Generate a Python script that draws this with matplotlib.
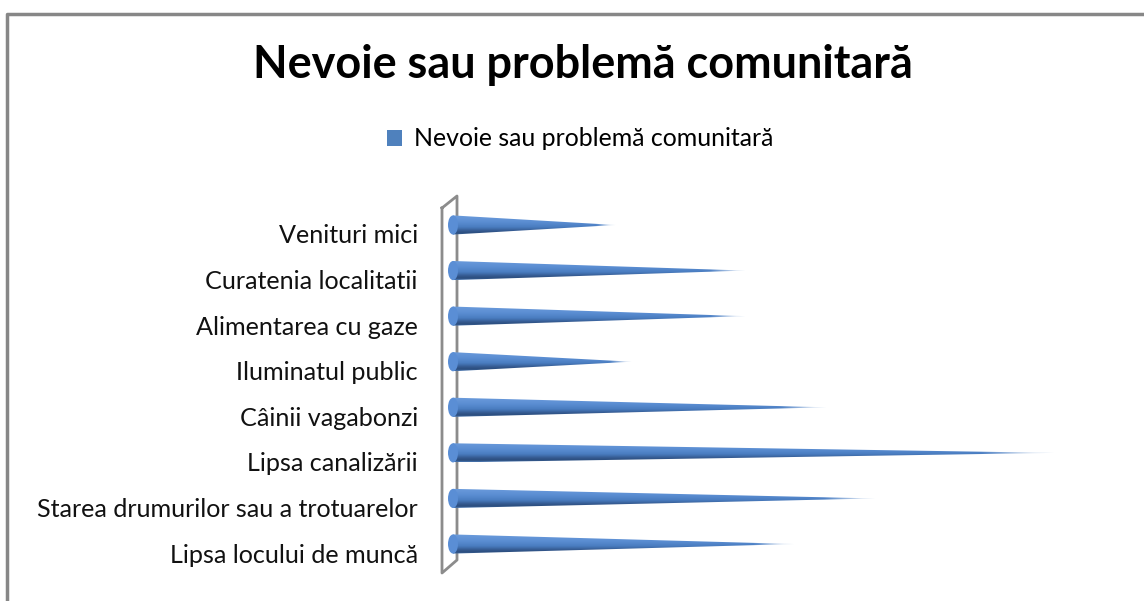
import matplotlib
matplotlib.use("Agg")
import matplotlib.pyplot as plt
import numpy as np
from matplotlib.patches import Polygon, Ellipse, Patch
from matplotlib.colors import LinearSegmentedColormap
from matplotlib.transforms import ScaledTranslation

plt.rcParams['font.family'] = ['Lato', 'DejaVu Sans']

# --- DATA ---
categories = [
    "Venituri mici",
    "Curatenia localitatii",
    "Alimentarea cu gaze",
    "Iluminatul public",
    "Câinii vagabonzi",
    "Lipsa canalizării",
    "Starea drumurilor sau a trotuarelor",
    "Lipsa locului de muncă",
]
values = [10, 18, 18, 11, 23, 37, 26, 21]
series_name = "Nevoie sau problemă comunitară"
title = "Nevoie sau problemă comunitară"

W, H = 1144, 601
fig = plt.figure(figsize=(W / 100, H / 100), dpi=100)

# axes placed in pixel space: base of cones at x=452
px_per_unit = 16.24
x0, x1 = -0.5, 40
base_px, top_px, bot_px = 453, 202.2, 566.8
left_px = base_px + x0 * px_per_unit
ax = fig.add_axes([left_px / W, 1 - bot_px / H,
                   (x1 - x0) * px_per_unit / W, (bot_px - top_px) / H])
ax.set_facecolor('none')
for s in ax.spines.values():
    s.set_visible(False)
ax.set_xticks([])

# cone shading (vertical gradient)
cmap = LinearSegmentedColormap.from_list('cone', [
    (0.0, '#6c9cdc'), (0.35, '#5a8dd2'), (0.6, '#4a7dc0'),
    (0.8, '#34598f'), (0.92, '#2b4c7c'), (1.0, '#4a78b4')])
half = 0.21
grad = cmap(np.linspace(0, 1, 64))[:, :3]

for i, v in enumerate(values):
    nx = 200
    img = np.ones((64, nx, 4))
    img[:, :, :3] = grad[:, None, :]
    fade = np.clip((1 - np.linspace(0, 1, nx)) / 0.12, 0.25, 1.0)
    img[:, :, 3] = fade[None, :]
    tri = Polygon([(0, i - half), (v, i), (0, i + half)], closed=True,
                  facecolor='none', edgecolor='none', transform=ax.transData)
    ax.add_patch(tri)
    im = ax.imshow(img, extent=(0, v, i + half, i - half), origin='upper',
                   aspect='auto', interpolation='bilinear', zorder=2)
    im.set_clip_path(tri)
    ax.add_patch(Ellipse((0, i), width=10 / px_per_unit, height=2 * half,
                         facecolor='#5a8ed5', edgecolor='none', zorder=3))

ax.set_xlim(x0, x1)
ax.set_ylim(len(categories) - 0.5, -0.5)

ax.set_yticks(range(len(categories)))
ax.set_yticklabels(categories, fontsize=18.05, color='#111111')
ax.tick_params(axis='y', length=0, pad=19.5)
off = ScaledTranslation(0, -9 / 100, fig.dpi_scale_trans)
for lab in ax.get_yticklabels():
    lab.set_transform(lab.get_transform() + off)

# 3D wall outline
wx = np.array([442, 457, 457, 442, 442]) / W
wy = 1 - np.array([208, 196, 560, 573, 208]) / H
ax.plot(wx, wy, color='#8c8c8c', lw=2, transform=fig.transFigure,
        clip_on=False, zorder=0.5)

# chart border (top and left edges visible)
fig.add_artist(plt.Line2D([7 / W, 7 / W, 1], [0, 1 - 14 / H, 1 - 14 / H],
                          color='#878787', lw=2.5))

fig.text(583 / W, 1 - 65 / H, title, ha='center', va='center',
         fontsize=32.4, fontweight='bold', color='black')

fig.legend(handles=[Patch(facecolor='#4f81bd')], labels=[series_name],
           loc='center', bbox_to_anchor=(580 / W, 1 - 139 / H),
           frameon=False, fontsize=17.9, handlelength=0.6, handleheight=0.6,
           handletextpad=0.5)

fig.savefig('out.png', dpi=100)
